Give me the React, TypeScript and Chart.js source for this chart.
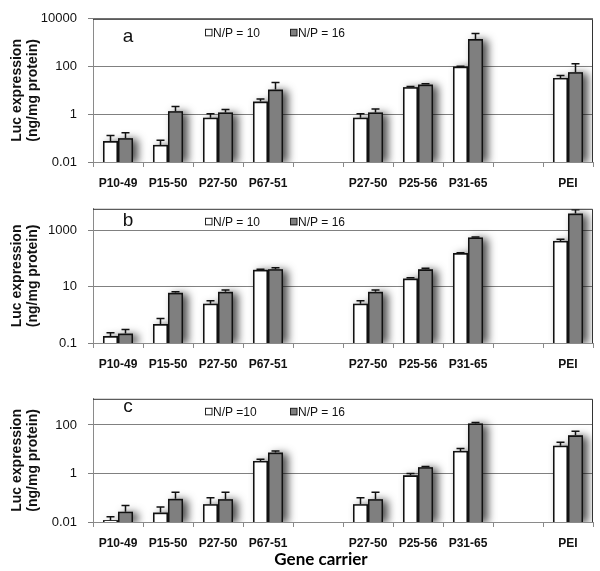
import React, { useEffect, useRef } from "react";
import { Chart, registerables } from "chart.js";
Chart.register(...registerables);

const categories = ["P10-49", "P15-50", "P27-50", "P67-51", "", "P27-50", "P25-56", "P31-65", "", "PEI"];

// Panel a
const a10 = [0.075, 0.052, 0.72, 3.4, null, 0.72, 13.7, 100, null, 33];
const a10Up = [0.13, 0.082, 1.06, 4.4, null, 1.06, 14.5, 104, null, 42];
const a16 = [0.1, 1.35, 1.2, 10.8, null, 1.2, 17.5, 1410, null, 58];
const a16Up = [0.17, 2.1, 1.6, 21.6, null, 1.65, 19, 2450, null, 131];
const aTickValues = [0.01, 1, 100, 10000];
const aTickLabels = ["0.01", "1", "100", "10000"];

// Panel b
const b10 = [0.176, 0.47, 2.5, 40, null, 2.5, 19.5, 157, null, 425];
const b10Up = [0.23, 0.74, 3.2, 41.5, null, 3.2, 21, 163, null, 490];
const b16 = [0.216, 6.1, 6.6, 42, null, 6.6, 41.7, 565, null, 4000];
const b16Up = [0.3, 6.6, 7.7, 47, null, 7.7, 45, 585, null, 5500];
const bTickValues = [0.1, 10, 1000];
const bTickLabels = ["0.1", "10", "1000"];

// Panel c
const c10 = [0.0119, 0.0244, 0.054, 3.28, null, 0.054, 0.84, 8.5, null, 14];
const c10Up = [0.0166, 0.042, 0.1, 3.9, null, 0.1, 1.0, 10.8, null, 19.6];
const c16 = [0.0267, 0.09, 0.0875, 7.3, null, 0.0875, 1.82, 116, null, 37.5];
const c16Up = [0.048, 0.168, 0.168, 8.5, null, 0.168, 1.95, 126, null, 55];
const cTickValues = [0.01, 1, 100];
const cTickLabels = ["0.01", "1", "100"];

const yTitle = ["Luc expression", "(ng/mg protein)"];
const xTitle = "Gene carrier";

const FONT = "'Liberation Sans', Arial, sans-serif";

type PanelProps = {
  h: number;
  padTop: number;
  axisH: number;
  d10: (number | null)[];
  u10: (number | null)[];
  d16: (number | null)[];
  u16: (number | null)[];
  min: number;
  max: number;
  tickValues: number[];
  tickLabels: string[];
  letter: string;
  letterDy: number;
  leg10: string;
  leg16: string;
  legDy: number;
  showXTitle: boolean;
};

function Panel(p: PanelProps) {
  const ref = useRef<HTMLCanvasElement>(null);
  useEffect(() => {
    const canvas = ref.current!;
    const ups = [p.u10, p.u16];
    const decor = {
      id: "decor",
      beforeDatasetsDraw(chart: any) {
        const ctx = chart.ctx;
        const area = chart.chartArea;
        ctx.save();
        ctx.beginPath();
        ctx.rect(area.left, area.top, area.right - area.left, area.bottom - area.top);
        ctx.clip();
        chart.data.datasets.forEach((ds: any, i: number) => {
          const meta = chart.getDatasetMeta(i);
          meta.data.forEach((el: any, j: number) => {
            if (ds.data[j] == null) return;
            const w = el.width;
            ctx.save();
            ctx.shadowColor = "rgba(0,0,0,0.7)";
            ctx.shadowBlur = 9;
            ctx.shadowOffsetX = 5;
            ctx.shadowOffsetY = 1;
            ctx.fillStyle = "#444";
            ctx.fillRect(el.x - w / 2, el.y, w, el.base - el.y);
            ctx.restore();
          });
        });
        ctx.restore();
      },
      afterDatasetsDraw(chart: any) {
        const ctx = chart.ctx;
        const ys = chart.scales.y;
        ctx.save();
        ctx.strokeStyle = "#111";
        ctx.lineWidth = 1.5;
        chart.data.datasets.forEach((ds: any, i: number) => {
          const meta = chart.getDatasetMeta(i);
          meta.data.forEach((el: any, j: number) => {
            const up = ups[i][j];
            if (ds.data[j] == null || up == null) return;
            const yErr = ys.getPixelForValue(up);
            ctx.beginPath();
            ctx.moveTo(el.x, el.y);
            ctx.lineTo(el.x, yErr);
            ctx.moveTo(el.x - 4, yErr);
            ctx.lineTo(el.x + 4, yErr);
            ctx.stroke();
          });
        });
        ctx.restore();
      },
      afterDraw(chart: any) {
        const ctx = chart.ctx;
        const a = chart.chartArea;
        ctx.save();
        // frame top & right
        ctx.strokeStyle = "#333";
        ctx.lineWidth = 1;
        ctx.beginPath();
        ctx.moveTo(a.left, a.top + 0.5);
        ctx.lineTo(a.right - 0.5, a.top + 0.5);
        ctx.lineTo(a.right - 0.5, a.bottom);
        ctx.stroke();
        // letter
        ctx.fillStyle = "#111";
        ctx.font = `19px ${FONT}`;
        ctx.textAlign = "center";
        ctx.textBaseline = "alphabetic";
        ctx.fillText(p.letter, a.left + 35, a.top + p.letterDy);
        // legend
        const ly = a.top + p.legDy;
        const items = [
          { x: a.left + 112, fill: "#fff", text: p.leg10 },
          { x: a.left + 197, fill: "#7f7f7f", text: p.leg16 },
        ];
        ctx.font = `12px ${FONT}`;
        ctx.textAlign = "left";
        ctx.textBaseline = "middle";
        items.forEach((it) => {
          ctx.fillStyle = it.fill;
          ctx.fillRect(it.x, ly - 3.5, 7, 7);
          ctx.strokeStyle = "#222";
          ctx.lineWidth = 1;
          ctx.strokeRect(it.x + 0.5, ly - 3.5, 6.5, 6.5);
          ctx.fillStyle = "#111";
          ctx.fillText(it.text, it.x + 8, ly + 0.5);
        });
        if (p.showXTitle) {
          ctx.font = `bold 17px Lato, 'Open Sans', sans-serif`;
          ctx.textAlign = "center";
          ctx.textBaseline = "middle";
          ctx.fillStyle = "#000";
          ctx.fillText(xTitle, a.left + 228, a.bottom + 38);
        }
        ctx.restore();
      },
    };
    const chart = new Chart(canvas, {
      type: "bar",
      data: {
        labels: categories,
        datasets: [
          { label: p.leg10, data: p.d10 as any, backgroundColor: "#ffffff", borderColor: "#111", borderWidth: 1.6 },
          { label: p.leg16, data: p.d16 as any, backgroundColor: "#7f7f7f", borderColor: "#111", borderWidth: 1.6 },
        ],
      },
      options: {
        responsive: false,
        animation: false,
        layout: { padding: { top: p.padTop, right: 7, left: 0, bottom: 0 } },
        plugins: { legend: { display: false }, tooltip: { enabled: false } },
        datasets: { bar: { categoryPercentage: 0.6, barPercentage: 1.0 } } as any,
        scales: {
          x: {
            type: "category",
            offset: true,
            afterFit: (s: any) => { s.height = p.axisH; },
            grid: { offset: true, drawOnChartArea: false, drawTicks: true, tickLength: 5, color: "#8a8a8a" },
            border: { display: true, color: "#8a8a8a" },
            ticks: {
              autoSkip: false,
              maxRotation: 0,
              padding: 9,
              color: "#111",
              font: { family: FONT, size: 12, weight: "bold" },
            },
          },
          y: {
            type: "logarithmic",
            min: p.min,
            max: p.max,
            afterFit: (s: any) => { s.width = 93; },
            afterBuildTicks: (s: any) => { s.ticks = p.tickValues.map((v) => ({ value: v })); },
            grid: { color: "#808080", lineWidth: 1, drawTicks: true, tickLength: 5 },
            border: { display: true, color: "#8a8a8a" },
            ticks: {
              padding: 11,
              color: "#111",
              font: { family: FONT, size: 13 },
              callback: (_v: any, i: number) => p.tickLabels[i],
            },
            title: {
              display: true,
              text: yTitle,
              color: "#111",
              font: { family: FONT, size: 14, weight: "bold", lineHeight: "16px" } as any,
              padding: { top: 9, bottom: 0 },
            },
          },
        },
      },
      plugins: [decor],
    });
    return () => chart.destroy();
  }, []);
  return <canvas ref={ref} width={600} height={p.h} style={{ display: "block" }} />;
}

export default function App() {
  return (
    <div style={{ position: "absolute", left: 0, top: 0, width: 600, height: 571, background: "#fff" }}>
      <Panel h={190} padTop={9} axisH={28} d10={a10} u10={a10Up} d16={a16} u16={a16Up}
        min={0.01} max={10000} tickValues={aTickValues} tickLabels={aTickLabels}
        letter="a" letterDy={23} leg10="N/P = 10" leg16="N/P = 16" legDy={14} showXTitle={false} />
      <Panel h={190} padTop={11} axisH={37} d10={b10} u10={b10Up} d16={b16} u16={b16Up}
        min={0.1} max={5900} tickValues={bTickValues} tickLabels={bTickLabels}
        letter="b" letterDy={17} leg10="N/P = 10" leg16="N/P = 16" legDy={13} showXTitle={false} />
      <Panel h={191} padTop={11} axisH={49} d10={c10} u10={c10Up} d16={c16} u16={c16Up}
        min={0.01} max={1200} tickValues={cTickValues} tickLabels={cTickLabels}
        letter="c" letterDy={13} leg10="N/P =10" leg16="N/P = 16" legDy={13} showXTitle={true} />
    </div>
  );
}
